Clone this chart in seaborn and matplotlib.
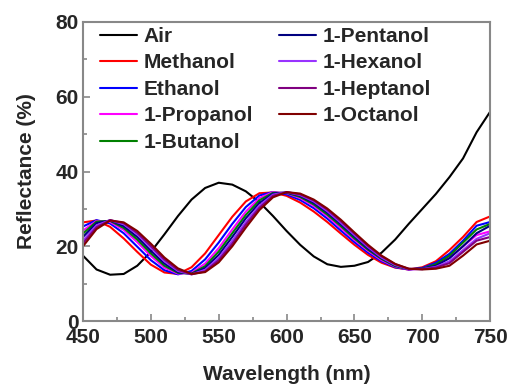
import numpy as np
import pandas as pd
import matplotlib
matplotlib.use("Agg")
import matplotlib.pyplot as plt
import seaborn as sns

# -----------------------------------------------------------------------------
# Data (10 nm steps)
# -----------------------------------------------------------------------------
wavelength = [450, 460, 470, 480, 490, 500, 510, 520, 530, 540, 550,
              560, 570, 580, 590, 600, 610, 620, 630, 640, 650,
              660, 670, 680, 690, 700, 710, 720, 730, 740, 750]

air = [17.5, 13.8, 12.4, 12.6, 14.8, 18.5, 23.2, 28.1, 32.5, 35.6, 37.0,
       36.5, 34.7, 31.8, 28.1, 24.1, 20.4, 17.3, 15.2, 14.5, 14.8,
       15.8, 18.3, 21.8, 26.0, 30.0, 34.0, 38.5, 43.5, 50.5, 56.0]
methanol = [26.4, 26.9, 25.2, 22.1, 18.5, 15.1, 13.0, 12.6, 14.4, 18.1, 23.0,
            27.9, 32.0, 34.2, 34.4, 33.5, 31.7, 29.3, 26.5, 23.4, 20.4,
            17.7, 15.6, 14.3, 13.8, 14.4, 16.0, 19.0, 22.5, 26.5, 28.0]
ethanol = [25.3, 27.0, 26.1, 23.5, 19.9, 16.3, 13.6, 12.5, 13.4, 16.5, 21.0,
           26.0, 30.5, 33.6, 34.5, 33.9, 32.4, 30.2, 27.4, 24.2, 21.1,
           18.3, 16.0, 14.4, 13.8, 14.2, 15.6, 18.0, 21.5, 25.5, 26.5]
propanol = [24.2, 26.8, 26.5, 24.4, 21.1, 17.4, 14.3, 12.7, 12.9, 15.4, 19.5,
            24.5, 29.3, 32.9, 34.5, 34.2, 32.9, 30.8, 28.1, 24.9, 21.7,
            18.8, 16.3, 14.6, 13.8, 14.0, 15.0, 17.0, 20.0, 23.0, 24.0]
butanol = [23.4, 26.6, 26.8, 24.9, 21.8, 18.1, 14.8, 12.9, 12.7, 14.7, 18.6,
           23.5, 28.4, 32.3, 34.3, 34.3, 33.2, 31.2, 28.5, 25.4, 22.1,
           19.1, 16.6, 14.7, 13.9, 14.0, 15.2, 17.5, 21.0, 24.5, 26.0]
pentanol = [22.5, 26.2, 26.9, 25.4, 22.5, 18.8, 15.4, 13.1, 12.6, 14.2, 17.7,
            22.5, 27.5, 31.6, 34.1, 34.4, 33.5, 31.6, 29.0, 25.9, 22.6,
            19.4, 16.8, 14.9, 13.9, 14.0, 14.8, 16.8, 20.0, 23.5, 25.5]
hexanol = [21.5, 25.6, 27.0, 25.9, 23.2, 19.6, 16.0, 13.4, 12.5, 13.7, 16.9,
           21.5, 26.5, 30.9, 33.8, 34.5, 33.7, 32.0, 29.4, 26.3, 23.0,
           19.8, 17.0, 15.0, 13.9, 13.9, 14.5, 16.0, 19.0, 22.0, 23.5]
heptanol = [20.8, 25.1, 27.0, 26.2, 23.6, 20.1, 16.5, 13.7, 12.5, 13.3, 16.3,
            20.7, 25.8, 30.3, 33.5, 34.5, 33.9, 32.3, 29.8, 26.7, 23.4,
            20.1, 17.3, 15.2, 14.0, 13.9, 14.3, 15.5, 18.5, 21.5, 22.5]
octanol = [20.0, 24.6, 26.9, 26.4, 24.1, 20.7, 17.0, 14.1, 12.6, 13.1, 15.7,
           20.0, 25.0, 29.7, 33.1, 34.5, 34.1, 32.5, 30.1, 27.1, 23.7,
           20.4, 17.5, 15.3, 14.0, 13.8, 14.0, 14.8, 17.5, 20.5, 21.5]

labels = ["Air", "Methanol", "Ethanol", "1-Propanol", "1-Butanol",
          "1-Pentanol", "1-Hexanol", "1-Heptanol", "1-Octanol"]
series = [air, methanol, ethanol, propanol, butanol,
          pentanol, hexanol, heptanol, octanol]
colors = ["#000000", "#ff0000", "#0000ff", "#ff00ff", "#008000",
          "#000080", "#9933ff", "#800080", "#800000"]

df = pd.DataFrame({
    "Wavelength": np.tile(wavelength, len(labels)),
    "Reflectance": np.concatenate(series),
    "Sample": np.repeat(labels, len(wavelength)),
})

# -----------------------------------------------------------------------------
# Plot
# -----------------------------------------------------------------------------
sns.set_style("ticks")
plt.rcParams["font.family"] = ["Liberation Sans", "DejaVu Sans"]
plt.rcParams["font.weight"] = "bold"

fig = plt.figure(figsize=(5.09, 3.85), dpi=100)
ax = fig.add_axes([0.163, 0.166, 0.800, 0.777])

sns.lineplot(data=df, x="Wavelength", y="Reflectance", hue="Sample",
             hue_order=labels, palette=dict(zip(labels, colors)),
             linewidth=1.5, ax=ax)

ax.set_xlim(450, 750)
ax.set_ylim(0, 80)
ax.set_xticks(range(450, 751, 50))
ax.set_yticks(range(0, 81, 20))
ax.set_xticks(range(475, 751, 50), minor=True)
ax.set_yticks(range(10, 81, 20), minor=True)
ax.tick_params(which="both", direction="in", color="#888888", width=1.2)
ax.tick_params(which="major", length=5, labelsize=15)
ax.tick_params(axis="x", which="major", pad=5)
ax.tick_params(axis="y", which="major", pad=3)
ax.tick_params(which="minor", length=3)
for lab in ax.get_xticklabels() + ax.get_yticklabels():
    lab.set_fontweight("bold")
for sp in ax.spines.values():
    sp.set_color("#888888")
    sp.set_linewidth(1.5)

ax.set_xlabel("Wavelength (nm)", fontsize=15, fontweight="bold", labelpad=13)
ax.set_ylabel("Reflectance (%)", fontsize=15, fontweight="bold", labelpad=14)

handles, hl = ax.get_legend_handles_labels()
ax.legend(handles, hl, ncol=2, frameon=False, loc="upper left",
          bbox_to_anchor=(0.01, 1.025),
          prop={"weight": "bold", "size": 15},
          handlelength=1.8, handletextpad=0.3, labelspacing=0.36,
          columnspacing=1.25, borderaxespad=0.2)

fig.savefig("out.png", dpi=100)
